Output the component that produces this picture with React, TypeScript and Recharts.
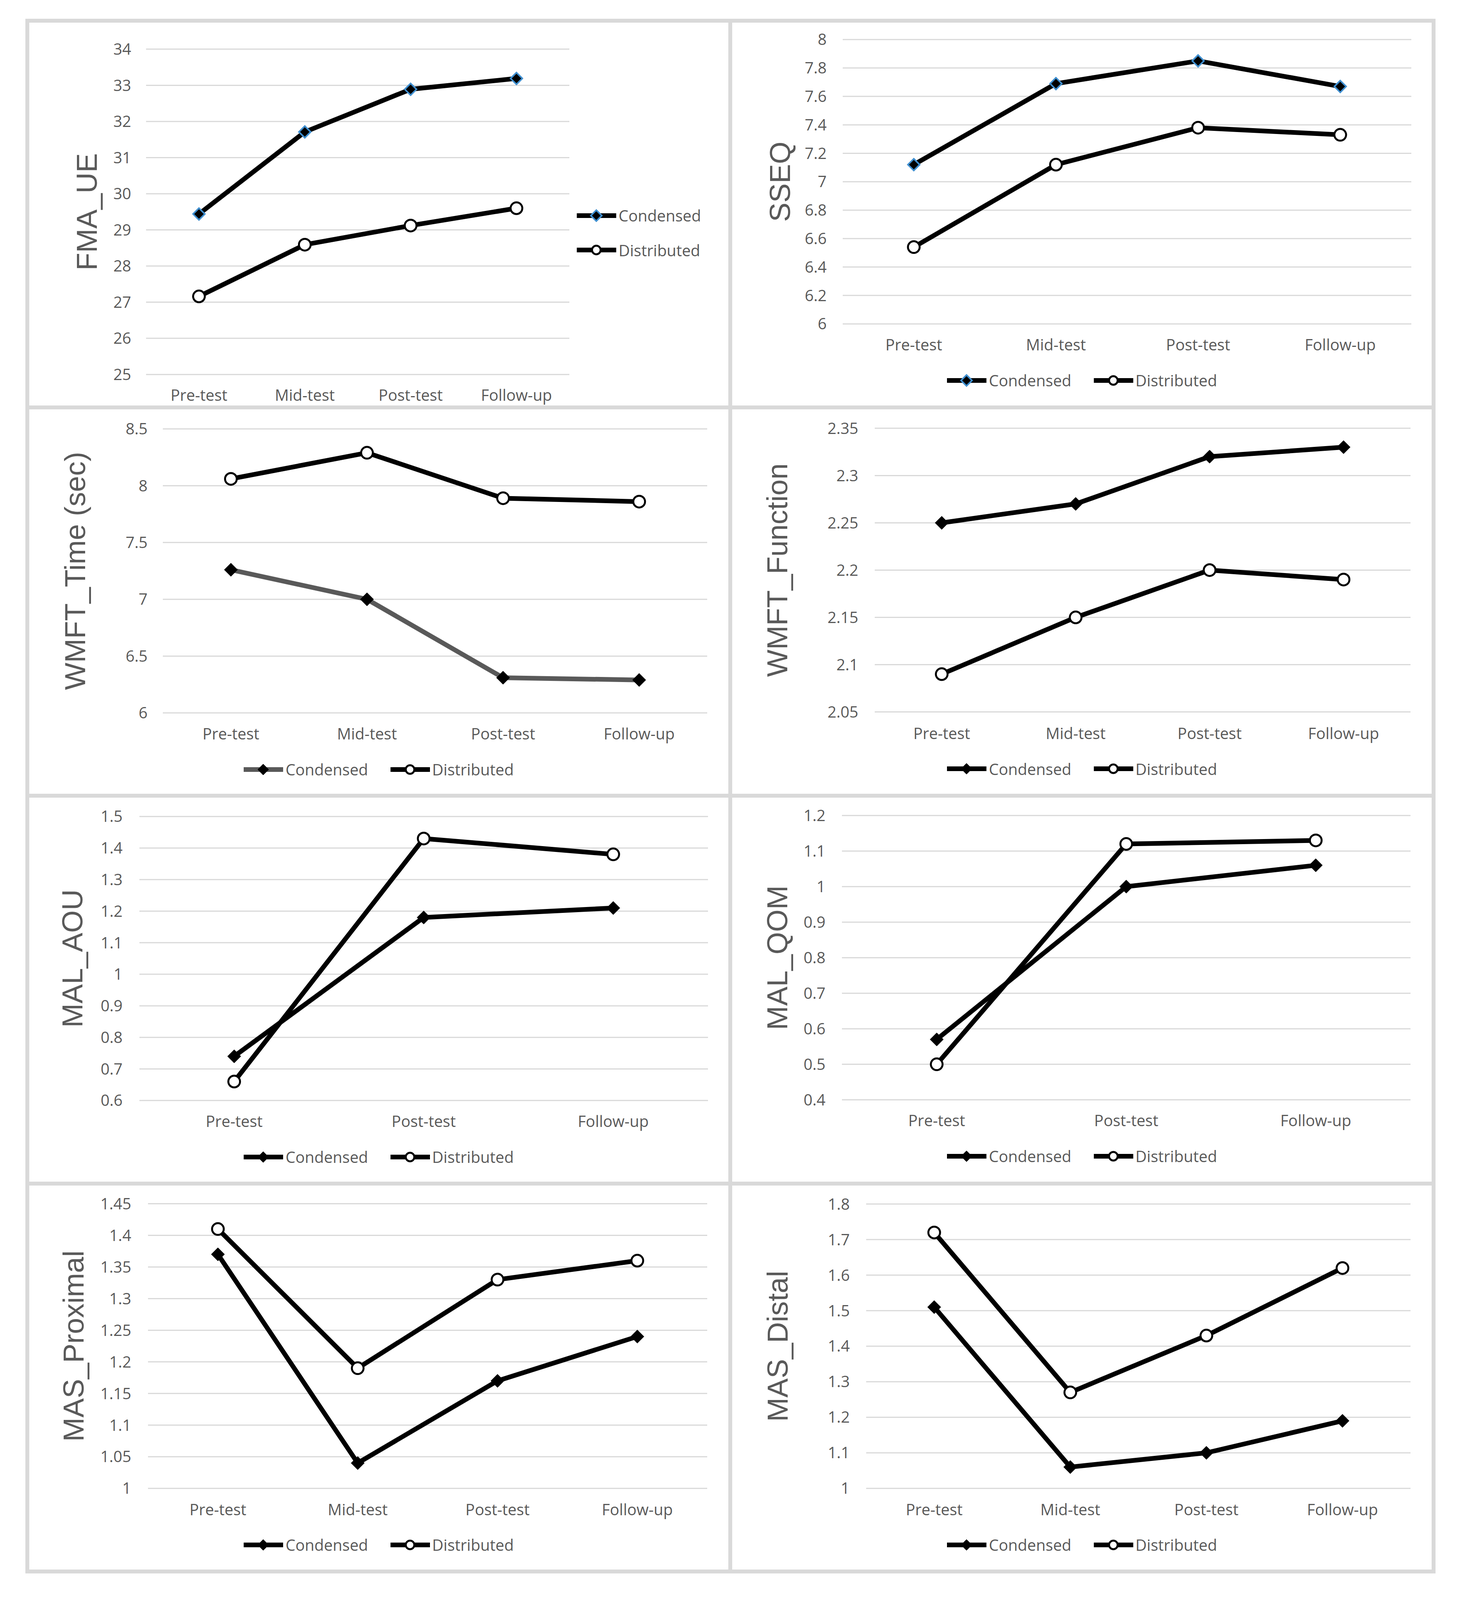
import React from 'react';
import { LineChart, Line, XAxis, YAxis, CartesianGrid, Legend } from 'recharts';

// time points
const phases4 = ['Pre-test', 'Mid-test', 'Post-test', 'Follow-up'];
const phases3 = ['Pre-test', 'Post-test', 'Follow-up'];

// FMA_UE
const fmaCondensed = [29.44, 31.71, 32.89, 33.19];
const fmaDistributed = [27.16, 28.59, 29.12, 29.6];
const fmaTicks = [25, 26, 27, 28, 29, 30, 31, 32, 33, 34];

// SSEQ
const sseqCondensed = [7.12, 7.69, 7.85, 7.67];
const sseqDistributed = [6.54, 7.12, 7.38, 7.33];
const sseqTicks = [6, 6.2, 6.4, 6.6, 6.8, 7, 7.2, 7.4, 7.6, 7.8, 8];

// WMFT_Time (sec)
const timeCondensed = [7.26, 7.0, 6.31, 6.29];
const timeDistributed = [8.06, 8.29, 7.89, 7.86];
const timeTicks = [6, 6.5, 7, 7.5, 8, 8.5];

// WMFT_Function
const funcCondensed = [2.25, 2.27, 2.32, 2.33];
const funcDistributed = [2.09, 2.15, 2.2, 2.19];
const funcTicks = [2.05, 2.1, 2.15, 2.2, 2.25, 2.3, 2.35];

// MAL_AOU
const aouCondensed = [0.74, 1.18, 1.21];
const aouDistributed = [0.66, 1.43, 1.38];
const aouTicks = [0.6, 0.7, 0.8, 0.9, 1, 1.1, 1.2, 1.3, 1.4, 1.5];

// MAL_QOM
const qomCondensed = [0.57, 1.0, 1.06];
const qomDistributed = [0.5, 1.12, 1.13];
const qomTicks = [0.4, 0.5, 0.6, 0.7, 0.8, 0.9, 1, 1.1, 1.2];

// MAS_Proximal
const proxCondensed = [1.37, 1.04, 1.17, 1.24];
const proxDistributed = [1.41, 1.19, 1.33, 1.36];
const proxTicks = [1, 1.05, 1.1, 1.15, 1.2, 1.25, 1.3, 1.35, 1.4, 1.45];

// MAS_Distal
const distCondensed = [1.51, 1.06, 1.1, 1.19];
const distDistributed = [1.72, 1.27, 1.43, 1.62];
const distTicks = [1, 1.1, 1.2, 1.3, 1.4, 1.5, 1.6, 1.7, 1.8];

const TICK_FONT = "'Open Sans', sans-serif";
const TITLE_FONT = "'Liberation Sans', Arial, sans-serif";
const GRAY = '#595959';
const BORDER = '#d9d9d9';
const TICK_SIZE = 40;

// the window is shorter than the figure, so squeeze the layout vertically to fit
const PAGE_H = 4997;
const KY = typeof window !== 'undefined' && window.innerHeight ? Math.min(1, window.innerHeight / PAGE_H) : 1;
const sy = (v: number) => v * KY;

const diamondDot = (fill: string, stroke: string, sw: number, s: number) => (props: any) => {
  const { cx, cy, index } = props;
  if (cx == null || cy == null) return <g key={`e-${index}`} />;
  return (
    <path
      key={`d-${index}`}
      d={`M${cx},${cy - s}L${cx + s},${cy}L${cx},${cy + s}L${cx - s},${cy}Z`}
      fill={fill}
      stroke={stroke}
      strokeWidth={sw}
    />
  );
};

function YTitle({ text, tx, ty }: any) {
  return (
    <text
      x={tx}
      y={ty}
      transform={`rotate(-90 ${tx} ${ty})`}
      textAnchor="middle"
      dominantBaseline="central"
      fill={GRAY}
      fontSize={74}
      fontFamily={TITLE_FONT}
    >
      {text}
    </text>
  );
}

function LegendIcon({ color, marker, blue }: any) {
  return (
    <svg width={101} height={40} style={{ display: 'block' }}>
      <line x1={0} x2={101} y1={20} y2={20} stroke={color} strokeWidth={12} />
      {marker === 'diamond' ? (
        <path d="M50,6L64,20L50,34L36,20Z" fill="#000" stroke={blue ? '#3f8fd0' : '#000'} strokeWidth={blue ? 4 : 1} />
      ) : (
        <circle cx={50} cy={20} r={11} fill="#fff" stroke="#000" strokeWidth={5} />
      )}
    </svg>
  );
}

function LegendBox({ payload, vertical, blue, rowH }: any) {
  const items = (payload || []).map((entry: any) => (
    <div key={entry.value} style={{ display: 'flex', alignItems: 'center', height: vertical ? rowH : 60 }}>
      <LegendIcon color={entry.color} marker={entry.value === 'Condensed' ? 'diamond' : 'circle'} blue={blue} />
      <span style={{ marginLeft: 6, fontSize: TICK_SIZE, fontFamily: TICK_FONT, color: GRAY, whiteSpace: 'nowrap' }}>
        {entry.value}
      </span>
    </div>
  ));
  return (
    <div
      style={{
        display: 'flex',
        flexDirection: vertical ? 'column' : 'row',
        justifyContent: vertical ? 'flex-start' : 'center',
        alignItems: vertical ? 'flex-start' : 'center',
        gap: vertical ? 0 : 57,
      }}
    >
      {items}
    </div>
  );
}

type PanelProps = {
  title: string;
  categories: string[];
  condensed: number[];
  distributed: number[];
  ticks: number[];
  box: number[];
  plot: number[];
  tickGap: number;
  titleX: number;
  catY: number;
  legendY: number;
  legendX?: number;
  condensedColor?: string;
  blue?: boolean;
};

function Panel(p: PanelProps) {
  const bx = p.box[0];
  const bw = p.box[2];
  const by = sy(p.box[1]);
  const bh = sy(p.box[3]);
  const pl = p.plot[0];
  const pr = p.plot[2];
  const pt = sy(p.plot[1]);
  const pb = sy(p.plot[3]);
  const data = p.categories.map((c, i) => ({
    phase: c,
    Condensed: p.condensed[i],
    Distributed: p.distributed[i],
  }));
  const half = (pr - pl) / (2 * p.categories.length);
  const vertical = p.legendX != null;
  const cColor = p.condensedColor || '#000';
  const dSize = p.blue ? 15 : 17;
  const legRow = sy(108);
  const catMargin = sy(p.catY) - pb - TICK_SIZE * 0.36;

  return (
    <div style={{ position: 'absolute', left: bx, top: by }}>
      <LineChart
        width={bw}
        height={bh}
        data={data}
        margin={{ top: pt - by, right: bx + bw - pr, bottom: 0, left: 0 }}
      >
        <CartesianGrid vertical={false} stroke={BORDER} strokeWidth={3} />
        <XAxis
          dataKey="phase"
          axisLine={false}
          tickLine={false}
          tickSize={0}
          tickMargin={catMargin}
          interval={0}
          height={by + bh - pb}
          padding={{ left: half, right: half }}
          tick={{ fill: GRAY, fontSize: TICK_SIZE, fontFamily: TICK_FONT }}
        />
        <YAxis
          type="number"
          domain={[p.ticks[0], p.ticks[p.ticks.length - 1]]}
          ticks={p.ticks}
          interval={0}
          width={pl - bx}
          axisLine={false}
          tickLine={false}
          tickSize={0}
          tickMargin={p.tickGap}
          tick={{ fill: GRAY, fontSize: TICK_SIZE, fontFamily: TICK_FONT }}
          label={<YTitle text={p.title} tx={p.titleX - bx} ty={(pt + pb) / 2 - by} />}
        />
        <Legend
          layout="horizontal"
          verticalAlign="middle"
          align="center"
          wrapperStyle={
            vertical
              ? { left: (p.legendX as number) - bx, top: sy(p.legendY) - by - legRow / 2, width: 420, height: legRow * 2 }
              : { left: 0, top: sy(p.legendY) - by - 30, width: bw, height: 60 }
          }
          content={(props: any) => <LegendBox {...props} vertical={vertical} blue={p.blue} rowH={legRow} />}
        />
        <Line
          type="linear"
          dataKey="Condensed"
          name="Condensed"
          stroke={cColor}
          strokeWidth={12}
          strokeLinejoin="round"
          dot={diamondDot('#000', p.blue ? '#3f8fd0' : '#000', p.blue ? 4 : 1, dSize)}
          activeDot={false}
          isAnimationActive={false}
        />
        <Line
          type="linear"
          dataKey="Distributed"
          name="Distributed"
          stroke="#000"
          strokeWidth={12}
          strokeLinejoin="round"
          dot={{ r: 15, fill: '#fff', stroke: '#000', strokeWidth: 5 }}
          activeDot={false}
          isAnimationActive={false}
        />
      </LineChart>
    </div>
  );
}

const colX = [76, 1876];
const colW = [1788, 1790];
const rowY = [70, 1278, 2490, 3702];
const rowH = [1198, 1202, 1202, 1201];

const vLines = [70, 1870, 3671];
const hLines = [65, 1273, 2485, 3697, 4908];

export default function App() {
  return (
    <div style={{ position: 'absolute', left: 0, top: 0, width: 3731, height: sy(PAGE_H), background: '#fff' }}>
      {vLines.map((x) => (
        <div key={`v${x}`} style={{ position: 'absolute', left: x - 5, top: sy(60), width: 10, height: sy(4853), background: BORDER }} />
      ))}
      {hLines.map((y) => (
        <div key={`h${y}`} style={{ position: 'absolute', left: 65, top: sy(y) - 5, width: 3611, height: 10, background: BORDER }} />
      ))}

      <Panel
        title="FMA_UE"
        categories={phases4}
        condensed={fmaCondensed}
        distributed={fmaDistributed}
        ticks={fmaTicks}
        box={[colX[0], rowY[0], colW[0], rowH[0]]}
        plot={[374, 154, 1458, 1170]}
        tickGap={38}
        titleX={222}
        catY={1235}
        legendX={1477}
        legendY={673}
        blue
      />
      <Panel
        title="SSEQ"
        categories={phases4}
        condensed={sseqCondensed}
        distributed={sseqDistributed}
        ticks={sseqTicks}
        box={[colX[1], rowY[0], colW[1], rowH[0]]}
        plot={[2158, 124, 3614, 1012]}
        tickGap={41}
        titleX={1997}
        catY={1078}
        legendY={1188}
        blue
      />
      <Panel
        title="WMFT_Time (sec)"
        categories={phases4}
        condensed={timeCondensed}
        distributed={timeDistributed}
        ticks={timeTicks}
        box={[colX[0], rowY[1], colW[0], rowH[1]]}
        plot={[417, 1339, 1811, 2226]}
        tickGap={39}
        titleX={192}
        catY={2292}
        legendY={2403}
        condensedColor={GRAY}
      />
      <Panel
        title="WMFT_Function"
        categories={phases4}
        condensed={funcCondensed}
        distributed={funcDistributed}
        ticks={funcTicks}
        box={[colX[1], rowY[1], colW[1], rowH[1]]}
        plot={[2240, 1337, 3612, 2223]}
        tickGap={42}
        titleX={1991}
        catY={2290}
        legendY={2401}
      />
      <Panel
        title="MAL_AOU"
        categories={phases3}
        condensed={aouCondensed}
        distributed={aouDistributed}
        ticks={aouTicks}
        box={[colX[0], rowY[2], colW[0], rowH[2]]}
        plot={[357, 2550, 1813, 3437]}
        tickGap={43}
        titleX={186}
        catY={3502}
        legendY={3613}
      />
      <Panel
        title="MAL_QOM"
        categories={phases3}
        condensed={qomCondensed}
        distributed={qomDistributed}
        ticks={qomTicks}
        box={[colX[1], rowY[2], colW[1], rowH[2]]}
        plot={[2156, 2547, 3612, 3435]}
        tickGap={42}
        titleX={1991}
        catY={3500}
        legendY={3611}
      />
      <Panel
        title="MAS_Proximal"
        categories={phases4}
        condensed={proxCondensed}
        distributed={proxDistributed}
        ticks={proxTicks}
        box={[colX[0], rowY[3], colW[0], rowH[3]]}
        plot={[379, 3760, 1811, 4649]}
        tickGap={43}
        titleX={189}
        catY={4716}
        legendY={4825}
      />
      <Panel
        title="MAS_Distal"
        categories={phases4}
        condensed={distCondensed}
        distributed={distDistributed}
        ticks={distTicks}
        box={[colX[1], rowY[3], colW[1], rowH[3]]}
        plot={[2218, 3761, 3612, 4649]}
        tickGap={42}
        titleX={1991}
        catY={4716}
        legendY={4825}
      />
    </div>
  );
}
